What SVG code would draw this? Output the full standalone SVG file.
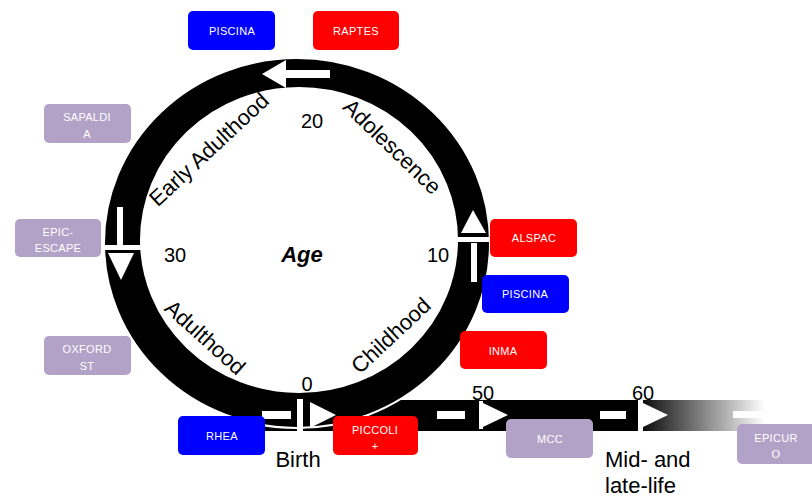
<svg xmlns="http://www.w3.org/2000/svg" width="812" height="498" viewBox="0 0 812 498">
<style>
.bx{stroke:none}
.blue{fill:#0000FF}
.red{fill:#FF0000}
.lav{fill:#B3A2C7}
.bt{font-family:"Liberation Sans",Arial,sans-serif;font-size:11px;fill:#FFFFFF;text-anchor:middle;letter-spacing:0.3px}
.lt{font-family:"Liberation Sans",Arial,sans-serif;font-size:22px;fill:#000000}
.num{font-family:"Liberation Sans",Arial,sans-serif;font-size:20px;fill:#000000;text-anchor:middle}
.w{fill:#FFFFFF}
</style>
<defs>
<linearGradient id="fade" gradientUnits="userSpaceOnUse" x1="636" y1="0" x2="765" y2="0">
<stop offset="0" stop-color="#000000"/>
<stop offset="1" stop-color="#FFFFFF"/>
</linearGradient>
</defs>
<rect width="812" height="498" fill="#FFFFFF"/>
<g id="timeline">
<rect x="250" y="400" width="520" height="31" fill="url(#fade)"/>
<path d="M104,243 a193,185 0 1,0 386,0 a193,185 0 1,0 -386,0 Z M141,240 a158,152 0 1,1 316,0 a158,152 0 1,1 -316,0 Z" fill="#000000" fill-rule="evenodd" stroke="#FFFFFF" stroke-width="2"/>
</g>
<g id="connectors">
<g id="arrow-top">
<rect class="w" x="285" y="70" width="45" height="8"/>
<polygon class="w" points="262,74 286,60 286,88"/>
</g>
<g id="arrow-left">
<rect class="w" x="117" y="207" width="6" height="38"/>
<rect class="w" x="104" y="245" width="38" height="5"/>
<polygon class="w" points="108,253 134,253 121,280"/>
</g>
<g id="arrow-right">
<rect class="w" x="471" y="243" width="6" height="39"/>
<rect class="w" x="457" y="237" width="34" height="5"/>
<polygon class="w" points="461,233 486,233 473,210"/>
</g>
<g id="arrow-0">
<rect class="w" x="262" y="411" width="29" height="8"/>
<rect class="w" x="297" y="399" width="6" height="33"/>
<polygon class="w" points="310,402 310,428 336,415"/>
</g>
<g id="arrow-50">
<rect class="w" x="437" y="411" width="28" height="8"/>
<polygon class="w" points="479,401 479,429 483,429 483,427 508,415 483,403 483,401"/>
</g>
<g id="arrow-60">
<rect class="w" x="600" y="411" width="26" height="8"/>
<rect class="w" x="638" y="400" width="5" height="31"/>
<polygon class="w" points="643,403 643,427 668,415"/>
</g>
<g id="arrow-end">
<rect class="w" x="733" y="411" width="30" height="7"/>
</g>
</g>
<g id="labels">
<text class="lt" x="302" y="262" text-anchor="middle" font-weight="bold" font-style="italic" font-size="25">Age</text>
<text class="num" x="312" y="128">20</text>
<text class="num" x="175" y="262">30</text>
<text class="num" x="438" y="262">10</text>
<text class="num" x="307" y="391">0</text>
<text class="num" x="483" y="400">50</text>
<text class="num" x="643" y="400">60</text>
<text class="lt" text-anchor="middle" transform="translate(214,155) rotate(-43)">Early Adulthood</text>
<text class="lt" text-anchor="middle" transform="translate(387,152) rotate(44)">Adolescence</text>
<text class="lt" text-anchor="middle" transform="translate(200,343) rotate(42)">Adulthood</text>
<text class="lt" text-anchor="middle" transform="translate(396,341) rotate(-43)">Childhood</text>
<text class="lt" x="298" y="467" text-anchor="middle">Birth</text>
<text class="lt" x="605" y="467">Mid- and</text>
<text class="lt" x="605" y="493">late-life</text>
</g>
<g id="node-piscina-top"><rect class="bx blue" x="188" y="11" width="87" height="39" rx="5"/><text class="bt" x="232" y="35">PISCINA</text></g>
<g id="node-raptes"><rect class="bx red" x="313" y="11" width="86" height="39" rx="5"/><text class="bt" x="356" y="35">RAPTES</text></g>
<g id="node-sapaldia"><rect class="bx lav" x="44" y="104" width="87" height="39" rx="5"/><text class="bt" x="87" y="121">SAPALDI</text><text class="bt" x="87" y="138">A</text></g>
<g id="node-epic-escape"><rect class="bx lav" x="15" y="219" width="86" height="38" rx="5"/><text class="bt" x="58" y="236">EPIC-</text><text class="bt" x="58" y="252">ESCAPE</text></g>
<g id="node-oxford"><rect class="bx lav" x="44" y="336" width="87" height="39" rx="5"/><text class="bt" x="87" y="353">OXFORD</text><text class="bt" x="87" y="370">ST</text></g>
<g id="node-alspac"><rect class="bx red" x="490" y="219" width="87" height="38" rx="5"/><text class="bt" x="534" y="242">ALSPAC</text></g>
<g id="node-piscina-right"><rect class="bx blue" x="482" y="275" width="87" height="38" rx="5"/><text class="bt" x="525" y="298">PISCINA</text></g>
<g id="node-inma"><rect class="bx red" x="460" y="331" width="87" height="38" rx="5"/><text class="bt" x="503" y="355">INMA</text></g>
<g id="node-rhea"><rect class="bx blue" x="178" y="416" width="87" height="39" rx="5"/><text class="bt" x="222" y="440">RHEA</text></g>
<g id="node-piccoli"><rect class="bx red" x="333" y="416" width="85" height="39" rx="5"/><text class="bt" x="375" y="434">PICCOLI</text><text class="bt" x="375" y="450">+</text></g>
<g id="node-mcc"><rect class="bx lav" x="506" y="419" width="87" height="39" rx="5"/><text class="bt" x="550" y="443">MCC</text></g>
<g id="node-epicuro"><rect class="bx lav" x="737" y="424" width="87" height="40" rx="5"/><text class="bt" x="776" y="442">EPICUR</text><text class="bt" x="776" y="458">O</text></g>
</svg>
